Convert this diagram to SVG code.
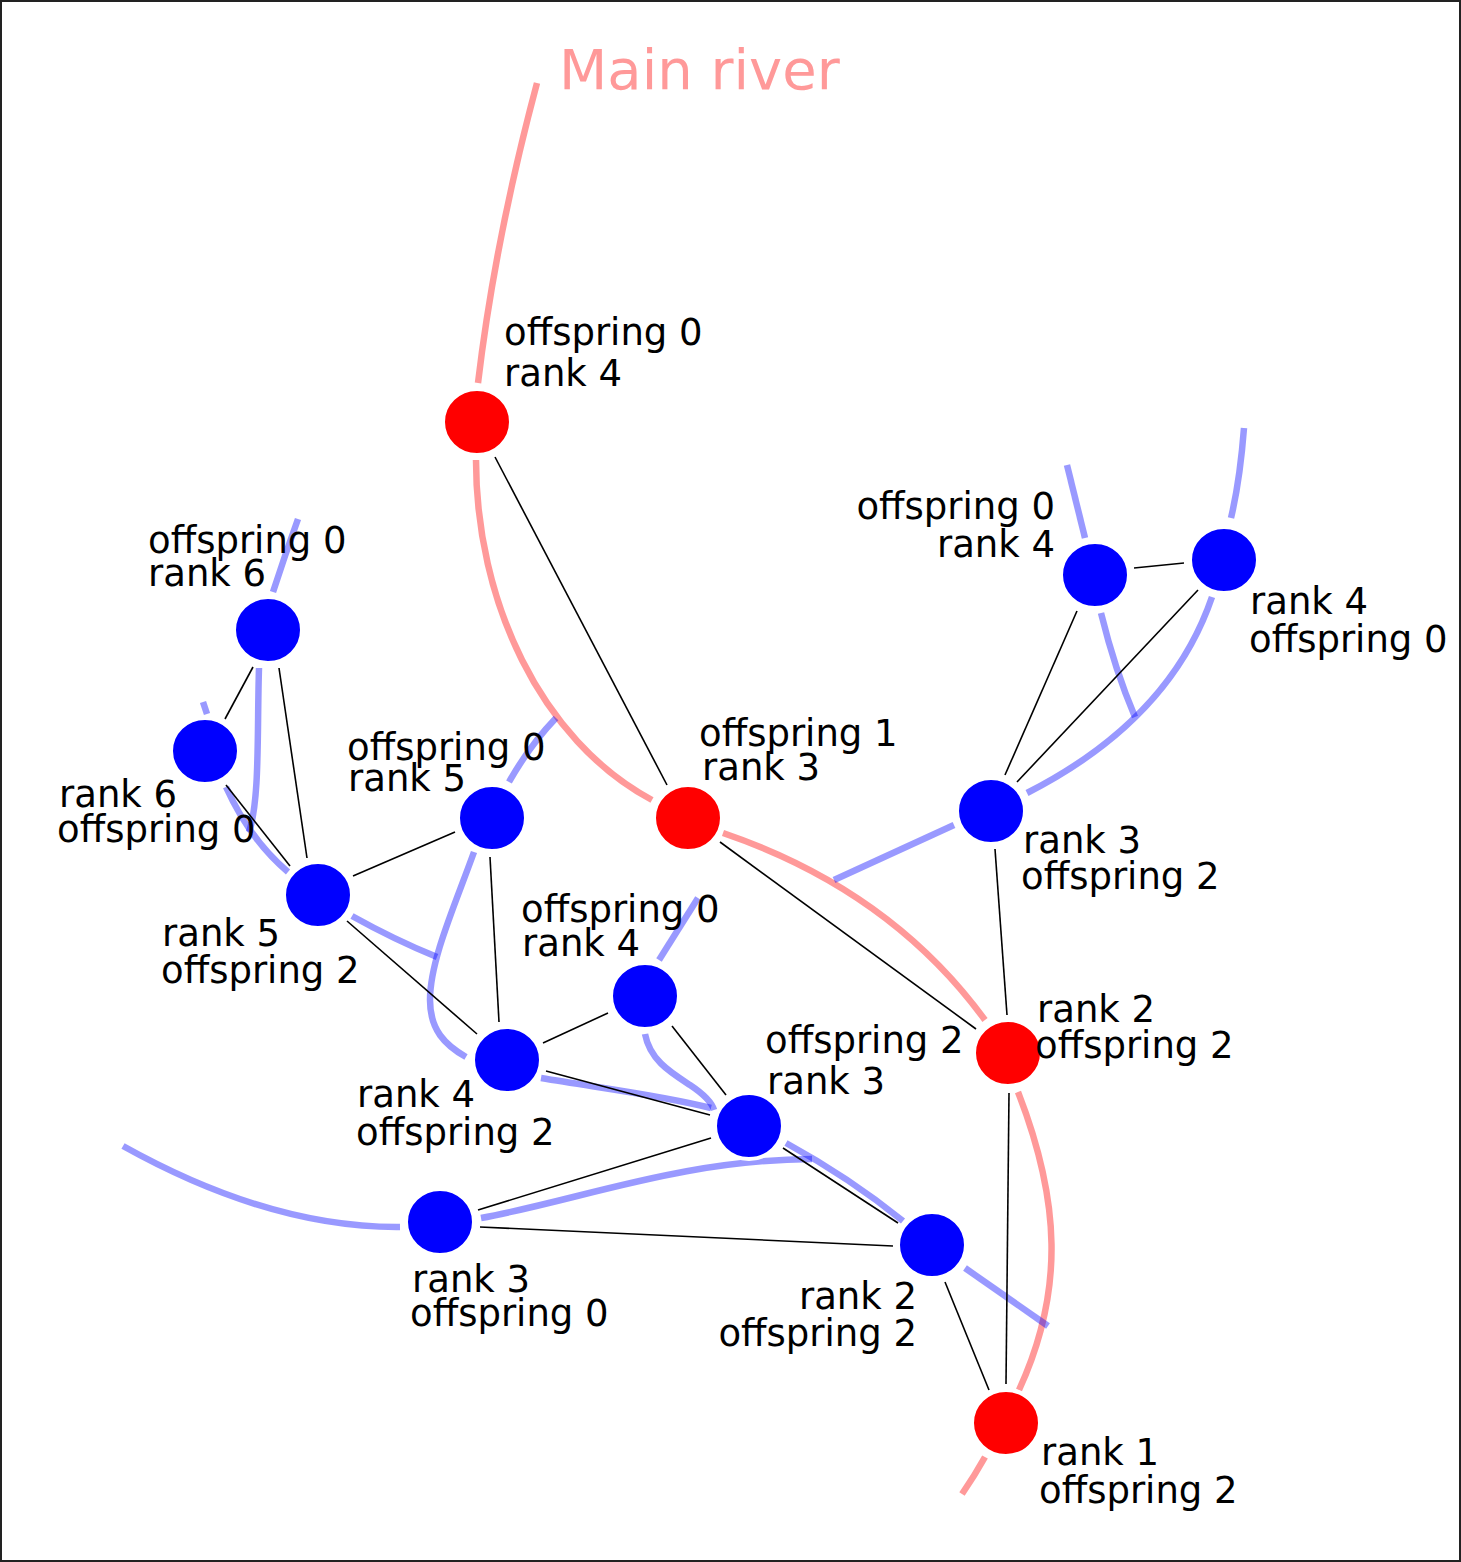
<svg xmlns="http://www.w3.org/2000/svg" width="1461" height="1562" viewBox="0 0 1461 1562">
<style>
.pr{fill:none;stroke:#ff0000;stroke-opacity:0.4;stroke-width:6.5}
.br{fill:none;stroke:#0000ff;stroke-opacity:0.4;stroke-width:6.5}
.e{stroke:#000;stroke-width:1.6;fill:none}
.rn{fill:#ff0000;stroke:#fff;stroke-width:4}
.bn{fill:#0000ff;stroke:#fff;stroke-width:4}
text{font-family:"DejaVu Sans","Liberation Sans",sans-serif;font-size:37px;fill:#000}
.title{font-size:56px;fill:#ff9999}
</style>
<rect x="1" y="1" width="1459" height="1560" fill="#fff" stroke="#222" stroke-width="2"/>
<g id="rivers">
<path class="pr" d="M537,83 Q495,240 478,383"/>
<path class="pr" d="M476,460 C476,600 540,740 652,800"/>
<path class="pr" d="M723,833 Q890,890 985,1020"/>
<path class="pr" d="M1018,1092 C1060,1200 1065,1290 1019,1390"/>
<path class="pr" d="M985,1457 Q975,1475 962,1494"/>
<path class="br" d="M298,519 Q285,555 273,592"/>
<path class="br" d="M259,668 C257,730 260,800 249,832"/>
<path class="br" d="M226,787 Q250,840 288,872"/>
<path class="br" d="M203,702 L207,714"/>
<path class="br" d="M352,916 Q395,940 437,957"/>
<path class="br" d="M474,852 C455,905 430,960 430,1000 C430,1030 445,1045 466,1057"/>
<path class="br" d="M509,782 Q530,745 556,718"/>
<path class="br" d="M659,960 L698,898"/>
<path class="br" d="M645,1034 C650,1060 670,1072 690,1085 C705,1095 712,1103 714,1110"/>
<path class="br" d="M541,1078 C600,1088 660,1095 711,1108"/>
<path class="br" d="M786,1143 Q850,1178 903,1221"/>
<path class="br" d="M481,1218 C580,1200 680,1160 812,1159"/>
<path class="br" d="M123,1146 Q270,1228 400,1227"/>
<path class="br" d="M965,1268 L1048,1326"/>
<path class="br" d="M954,825 L834,880"/>
<path class="br" d="M1027,793 Q1170,720 1212,597"/>
<path class="br" d="M1231,518 Q1240,480 1244,428"/>
<path class="br" d="M1067,465 L1085,538"/>
<path class="br" d="M1101,613 Q1115,670 1135,717"/>
</g>
<g id="connectors">
<line class="e" x1="495" y1="457" x2="667" y2="785"/>
<line class="e" x1="720" y1="842" x2="976" y2="1029"/>
<line class="e" x1="1009" y1="1093" x2="1006" y2="1384"/>
<line class="e" x1="945" y1="1282" x2="989" y2="1390"/>
<line class="e" x1="995" y1="849" x2="1007" y2="1015"/>
<line class="e" x1="1005" y1="775" x2="1077" y2="611"/>
<line class="e" x1="1017" y1="782" x2="1198" y2="590"/>
<line class="e" x1="1134" y1="568" x2="1184" y2="563"/>
<line class="e" x1="253" y1="667" x2="225" y2="719"/>
<line class="e" x1="279" y1="668" x2="307" y2="858"/>
<line class="e" x1="226" y1="785" x2="290" y2="866"/>
<line class="e" x1="353" y1="876" x2="455" y2="832"/>
<line class="e" x1="490" y1="857" x2="499" y2="1022"/>
<line class="e" x1="347" y1="921" x2="477" y2="1034"/>
<line class="e" x1="543" y1="1043" x2="608" y2="1013"/>
<line class="e" x1="672" y1="1026" x2="726" y2="1095"/>
<line class="e" x1="546" y1="1071" x2="710" y2="1115"/>
<line class="e" x1="711" y1="1138" x2="478" y2="1210"/>
<line class="e" x1="480" y1="1227" x2="893" y2="1246"/>
<line class="e" x1="783" y1="1148" x2="898" y2="1223"/>
</g>
<text class="title" x="559" y="89">Main river</text>
<g id="r1"><ellipse class="rn" cx="477" cy="422" rx="34" ry="33"/><text x="504" y="345">offspring 0</text><text x="504" y="386">rank 4</text></g>
<g id="r2"><ellipse class="rn" cx="688" cy="818" rx="34" ry="33"/><text x="699" y="746">offspring 1</text><text x="702" y="780">rank 3</text></g>
<g id="r3"><ellipse class="rn" cx="1008" cy="1053" rx="34" ry="33"/><text x="1037" y="1022">rank 2</text><text x="1035" y="1058">offspring 2</text></g>
<g id="r4"><ellipse class="rn" cx="1006" cy="1423" rx="34" ry="33"/><text x="1041" y="1465">rank 1</text><text x="1039" y="1503">offspring 2</text></g>
<g id="b1"><ellipse class="bn" cx="268" cy="630" rx="34" ry="33"/><text x="148" y="553">offspring 0</text><text x="148" y="586">rank 6</text></g>
<g id="b2"><ellipse class="bn" cx="205" cy="751" rx="34" ry="33"/><text x="59" y="807">rank 6</text><text x="57" y="842">offspring 0</text></g>
<g id="b3"><ellipse class="bn" cx="318" cy="895" rx="34" ry="33"/><text x="162" y="946">rank 5</text><text x="161" y="983">offspring 2</text></g>
<g id="b4"><ellipse class="bn" cx="492" cy="818" rx="34" ry="33"/><text x="347" y="760">offspring 0</text><text x="348" y="791">rank 5</text></g>
<g id="b5"><ellipse class="bn" cx="645" cy="996" rx="34" ry="33"/><text x="521" y="922">offspring 0</text><text x="522" y="956">rank 4</text></g>
<g id="b6"><ellipse class="bn" cx="507" cy="1060" rx="34" ry="33"/><text x="357" y="1107">rank 4</text><text x="356" y="1145">offspring 2</text></g>
<g id="b7"><ellipse class="bn" cx="749" cy="1126" rx="34" ry="33"/><text x="765" y="1053">offspring 2</text><text x="767" y="1094">rank 3</text></g>
<g id="b8"><ellipse class="bn" cx="440" cy="1222" rx="34" ry="33"/><text x="412" y="1292">rank 3</text><text x="410" y="1326">offspring 0</text></g>
<g id="b9"><ellipse class="bn" cx="932" cy="1245" rx="34" ry="33"/><text x="917" y="1309" text-anchor="end">rank 2</text><text x="917" y="1346" text-anchor="end">offspring 2</text></g>
<g id="b10"><ellipse class="bn" cx="991" cy="811" rx="34" ry="33"/><text x="1023" y="853">rank 3</text><text x="1021" y="889">offspring 2</text></g>
<g id="b11"><ellipse class="bn" cx="1095" cy="575" rx="34" ry="33"/><text x="1055" y="519" text-anchor="end">offspring 0</text><text x="1055" y="557" text-anchor="end">rank 4</text></g>
<g id="b12"><ellipse class="bn" cx="1224" cy="560" rx="34" ry="33"/><text x="1250" y="614">rank 4</text><text x="1249" y="652">offspring 0</text></g>
</svg>
